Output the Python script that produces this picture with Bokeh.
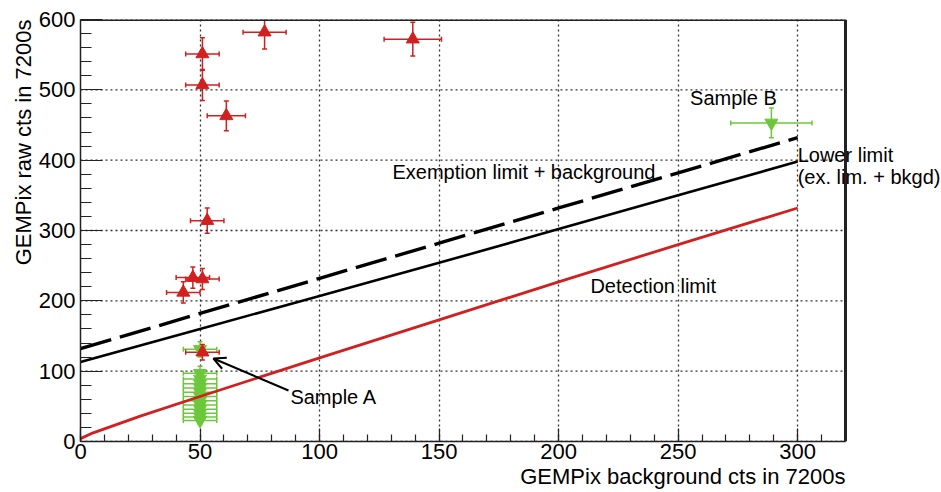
from bokeh.plotting import figure
from bokeh.models import (Range1d, FixedTicker, ColumnDataSource, Whisker, TeeHead,
                          Label, Arrow, OpenHead, Title)
from bokeh.embed import file_html
from bokeh.resources import INLINE

# --- Measured samples whose raw counts exceed the limit (red, up triangles) ---
red_bkg = [77, 139, 51, 51, 61, 53, 47, 51, 43, 51]
red_raw = [582, 572, 551, 507, 463, 314, 233, 231, 212, 127]
red_bkg_err = [9, 12, 7, 7, 8, 7, 7, 7, 7, 7]
red_raw_err = [24, 24, 23, 22, 21, 18, 15, 15, 15, 11]

# --- Samples below the limit (green, down triangles) ---
green_bkg = [289, 50, 50, 50, 50, 50, 50, 50, 50, 50, 50, 50, 50, 50]
green_raw = [453, 131, 97, 89, 82, 76, 70, 64, 58, 52, 46, 40, 35, 30]
green_bkg_err = [17, 7, 7, 7, 7, 7, 7, 7, 7, 7, 7, 7, 7, 7]
green_raw_err = [21, 11, 10, 9, 9, 9, 8, 8, 8, 7, 7, 6, 6, 5]

# --- Limit curves ---
limit_bkg = [0, 50, 100, 150, 200, 250, 300]
exemption_plus_bkg = [132, 182, 232, 282, 332, 382, 432]
lower_limit = [113, 160, 207, 254, 302, 350, 398]

detect_bkg = [0, 5, 10, 25, 50, 100, 150, 200, 250, 300]
detection_limit = [4, 12, 18, 36, 64, 119, 173, 227, 280, 332]

x_ticks = [0, 50, 100, 150, 200, 250, 300]
y_ticks = [0, 100, 200, 300, 400, 500, 600]
x_max, y_max = 320, 600

FONT = "Liberation Sans"
RED = "#d0201f"
GREEN = "#6cc83a"
FRAME = "#222222"

# The plotting area runs to the right edge of the canvas so the side note
# next to the curves can sit beyond the drawn frame (x = 0..320).
p = figure(width=941, height=492, output_backend="svg", toolbar_location=None,
           x_range=Range1d(0, 360.16), y_range=Range1d(0, y_max),
           min_border_left=80, min_border_right=0, min_border_top=19,
           min_border_bottom=51)
p.background_fill_color = "white"
p.border_fill_color = "white"
p.outline_line_color = None

p.xaxis.ticker = FixedTicker(ticks=x_ticks, minor_ticks=list(range(0, x_max + 1, 10)))
p.yaxis.ticker = FixedTicker(ticks=y_ticks, minor_ticks=list(range(0, y_max + 1, 20)))
p.xaxis.bounds = (0, x_max)

for ax in (p.xaxis[0], p.yaxis[0]):
    ax.axis_line_color = FRAME
    ax.axis_line_width = 1.5
    ax.major_tick_line_color = FRAME
    ax.minor_tick_line_color = FRAME
    ax.major_tick_line_width = 1.2
    ax.minor_tick_line_width = 1.2
    ax.major_tick_out = 0
    ax.minor_tick_out = 0
    ax.major_label_text_font = FONT
    ax.major_label_text_font_size = "22px"
    ax.major_label_text_color = "black"

p.xaxis.major_tick_in = 13
p.xaxis.minor_tick_in = 7
p.yaxis.major_tick_in = 22
p.yaxis.minor_tick_in = 11
p.xaxis.major_label_standoff = 2
p.yaxis.major_label_standoff = 5

# axis titles, pushed to the far end of each axis
p.add_layout(Title(text="GEMPix background cts in 7200s", align="right", offset=96,
                   text_font=FONT, text_font_size="22px", text_font_style="normal",
                   text_color="black", standoff=0), "below")
p.add_layout(Title(text="GEMPix raw cts in 7200s", align="right", offset=0,
                   text_font=FONT, text_font_size="22px", text_font_style="normal",
                   text_color="black", standoff=0), "left")

p.xgrid.ticker = FixedTicker(ticks=x_ticks)
p.xgrid.grid_line_color = "#333333"
p.xgrid.grid_line_dash = "2 3"
p.xgrid.grid_line_width = 1.3
p.ygrid.visible = False

# horizontal grid lines limited to the drawn frame
p.segment(x0=[0] * len(y_ticks), x1=[x_max] * len(y_ticks), y0=y_ticks, y1=y_ticks,
          line_color="#333333", line_dash="2 3", line_width=1.3)

# frame: top and right edges
p.segment(x0=[0, x_max], y0=[y_max, 0], x1=[x_max, x_max], y1=[y_max, y_max],
          line_color=FRAME, line_width=3)


def error_bars(bkg, raw, bkg_err, raw_err, color):
    src = ColumnDataSource(dict(
        x=bkg, y=raw,
        xl=[a - e for a, e in zip(bkg, bkg_err)], xu=[a + e for a, e in zip(bkg, bkg_err)],
        yl=[a - e for a, e in zip(raw, raw_err)], yu=[a + e for a, e in zip(raw, raw_err)],
    ))
    for dim, base, lo, hi in (("width", "y", "xl", "xu"), ("height", "x", "yl", "yu")):
        w = Whisker(source=src, base=base, lower=lo, upper=hi, dimension=dim,
                    line_color=color, line_width=1.5,
                    lower_head=TeeHead(size=5, line_color=color, line_width=1.5),
                    upper_head=TeeHead(size=5, line_color=color, line_width=1.5))
        p.add_layout(w)
    return src


gsrc = error_bars(green_bkg, green_raw, green_bkg_err, green_raw_err, GREEN)
p.scatter("x", "y", source=gsrc, marker="inverted_triangle", size=13,
          fill_color=GREEN, line_color=GREEN)
rsrc = error_bars(red_bkg, red_raw, red_bkg_err, red_raw_err, RED)
p.scatter("x", "y", source=rsrc, marker="triangle", size=13,
          fill_color=RED, line_color=RED)

# limit curves
p.line(detect_bkg, detection_limit, line_color=RED, line_width=2.8)
p.line(limit_bkg, lower_limit, line_color="black", line_width=2.6)
p.line(limit_bkg, exemption_plus_bkg, line_color="black", line_width=3.4,
       line_dash="32 9")


def add_text(text, x, y, size="20px", align="left"):
    p.add_layout(Label(x=x, y=y, text=text, text_font=FONT, text_font_size=size,
                       text_color="black", text_align=align, text_baseline="middle"))


add_text("Sample A", 87.8, 62.6)
add_text("Sample B", 255, 487.7)
add_text("Lower limit", 300, 406.7)
add_text("(ex. lim. + bkgd)", 300, 375.4)
add_text("Exemption limit + background", 130.5, 382.5)
add_text("Detection limit", 213.3, 221.8)

p.add_layout(Arrow(end=OpenHead(size=12, line_color="black", line_width=2),
                   x_start=87, y_start=72.5, x_end=55.6, y_end=118,
                   line_color="black", line_width=2))

open("out.html", "w").write(file_html(p, INLINE))
